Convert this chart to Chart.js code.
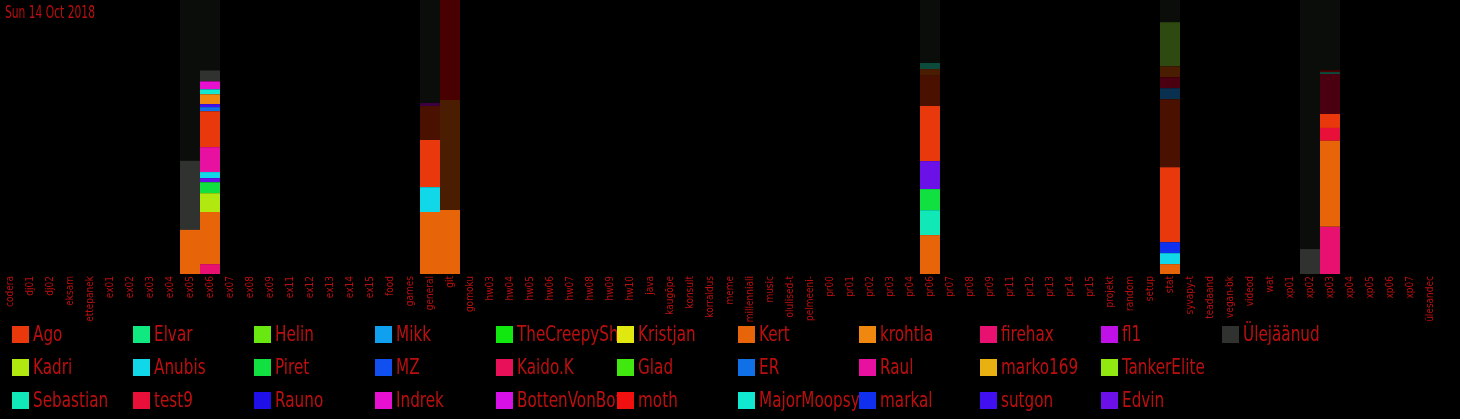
<!DOCTYPE html>
<html>
<head>
<meta charset="utf-8">
<script src="https://cdn.jsdelivr.net/npm/chart.js@4.4.0/dist/chart.umd.min.js"></script>
<style>
  html, body { margin: 0; padding: 0; background: #000; }
  #wrap { position: relative; width: 1460px; height: 419px; overflow: hidden; }
  #chart { position: absolute; left: 0; top: 0; }
  #date {
    position: absolute; left: 5px; top: 2px;
    color: #bb0f0f; font: 17px "Liberation Sans Narrow", "DejaVu Sans Condensed", sans-serif;
    transform: scaleX(0.7); transform-origin: left top;
  }
  #legend {
    position: absolute; left: 12px; top: 320px;
    display: grid; grid-template-rows: repeat(3, 33px); grid-auto-flow: column;
    grid-auto-columns: 121px;
  }
  .item { position: relative; width: 121px; height: 33px; overflow: hidden; white-space: nowrap; }
  .box { position: absolute; left: 0; top: 6px; width: 17px; height: 17px; }
  .lab {
    position: absolute; left: 21px; top: 1px;
    color: #bb0f0f; font: 22px/26px "Liberation Sans Narrow", "DejaVu Sans Condensed", sans-serif;
    transform: scaleX(0.77); transform-origin: left top;
  }
</style>
</head>
<body>
<div id="wrap">
  <canvas id="chart" width="1460" height="330"></canvas>
  <div id="date">Sun 14 Oct 2018</div>
  <div id="legend"></div>
</div>
<script>
// channels (x axis)
const channels = ['codera', 'dj01', 'dj02', 'eksam', 'ettepanek', 'ex01', 'ex02', 'ex03', 'ex04', 'ex05',
  'ex06', 'ex07', 'ex08', 'ex09', 'ex11', 'ex12', 'ex13', 'ex14', 'ex15', 'food', 'games', 'general',
  'git', 'gomoku', 'hw03', 'hw04', 'hw05', 'hw06', 'hw07', 'hw08', 'hw09', 'hw10', 'java', 'kaugõpe',
  'konsult', 'korraldus', 'meme', 'millenniali', 'music', 'olulised-t', 'pelmeeni-', 'pr00', 'pr01',
  'pr02', 'pr03', 'pr04', 'pr06', 'pr07', 'pr08', 'pr09', 'pr11', 'pr12', 'pr13', 'pr14', 'pr15',
  'projekt', 'random', 'setup', 'stat', 'syvapy-t', 'teadaand', 'vegan-bk', 'videod', 'wat', 'xp01',
  'xp02', 'xp03', 'xp04', 'xp05', 'xp06', 'xp07', 'ülesandec'];

// channels that had messages that day, values below are % of messages per user
const activeChannels = ['ex05', 'ex06', 'general', 'git', 'pr06', 'stat', 'xp02', 'xp03'];

// legend order (users)
const users = ['Ago', 'Kadri', 'Sebastian', 'Elvar', 'Anubis', 'test9', 'Helin', 'Piret', 'Rauno',
  'Mikk', 'MZ', 'Indrek', 'TheCreepySh', 'Kaido.K', 'BottenVonBot', 'Kristjan', 'Glad', 'moth',
  'Kert', 'ER', 'MajorMoopsy', 'krohtla', 'Raul', 'markal', 'firehax', 'marko169', 'sutgon',
  'fl1', 'TankerElite', 'Edvin', 'Ülejäänud'];
const userColors = ['#e8380c', '#b0e810', '#10e8b8', '#10e880', '#10d8e8', '#e81038', '#68e810',
  '#10e040', '#2010e8', '#10a0f0', '#1050f0', '#e810d0', '#10e810', '#e81058', '#d810e8',
  '#e0e810', '#40e810', '#f01010', '#e86408', '#1070e8', '#10e8d0', '#f08810', '#e810a0',
  '#1030f0', '#e81070', '#e8b010', '#4010f0', '#c010e8', '#90e810', '#6c10e8', '#303230'];

// per user share, in activeChannels order
//                ex05  ex06  general git   pr06  stat  xp02  xp03
const firehax   = [0,    3.6,  0,      0,    0,    0,    0,    17.2];
const Kert      = [16.1, 19.0, 22.6,   23.4, 14.2, 3.6,  0,    31.4];
const Kadri     = [0,    6.9,  0,      0,    0,    0,    0,    0];
const Sebastian = [0,    0,    0,      0,    9.1,  0,    0,    0];
const Piret     = [0,    4.0,  0,      0,    7.7,  0,    0,    0];
const Edvin     = [0,    1.5,  0,      0,    10.2, 0,    0,    0];
const Anubis    = [0,    2.2,  9.1,    0,    0,    4.0,  0,    0];
const Raul      = [0,    9.1,  0,      0,    0,    0,    0,    0];
const markal    = [0,    0,    0,      0,    0,    4.0,  0,    0];
const test9     = [0,    0,    0,      0,    0,    0,    0,    4.7];
const Ago       = [0,    13.1, 17.2,   0,    20.1, 27.4, 0,    5.1];
const ER        = [0,    1.5,  0,      0,    0,    0,    0,    0];
const sutgon    = [0,    1.1,  0,      0,    0,    0,    0,    0];
const krohtla   = [0,    3.6,  0,      0,    0,    0,    0,    0];
const MajorMoopsy = [0,  1.8,  0,      0,    0,    0,    0,    0];
const Indrek    = [0,    2.9,  0,      0,    0,    0,    0,    0];
const rest      = [25.2, 4.0,  0,      0,    0,    0,    9.1,  0];

// users without a legend entry (dark colours)
const otherColors = ['#4a1000', '#3c0040', '#0a3050', '#4a0010', '#4a1c00', '#0c4a3c', '#480000', '#2e4a10', '#0a0d0a'];
const other1 = [0,    0,    12.4,   0,    11.3, 24.8, 0,    0];
const other2 = [0,    0,    1.1,    0,    0,    0,    0,    0];
const other3 = [0,    0,    0,      0,    0,    4.0,  0,    0];
const other4 = [0,    0,    0,      0,    0,    4.0,  0,    14.6];
const other5 = [0,    0,    0,      40.1, 2.2,  4.0,  0,    0];
const other6 = [0,    0,    0,      0,    2.2,  0,    0,    0.7];
const other7 = [0,    0,    0,      36.5, 0,    0,    0,    0.7];
const other8 = [0,    0,    0,      0,    0,    16.1, 0,    0];
const other9 = [58.7, 25.7, 37.6,   0,    23.0, 8.1,  90.9, 25.6];

// stacking order, bottom to top
const stackOrder = [
  ['firehax', firehax], ['Kert', Kert], ['Kadri', Kadri], ['Sebastian', Sebastian], ['Piret', Piret],
  ['Edvin', Edvin], ['Anubis', Anubis], ['Raul', Raul], ['markal', markal], ['test9', test9],
  ['Ago', Ago], ['ER', ER], ['sutgon', sutgon], ['krohtla', krohtla], ['MajorMoopsy', MajorMoopsy],
  ['Indrek', Indrek], ['', other1], ['', other2], ['', other3], ['', other4], ['', other5],
  ['', other6], ['', other7], ['', other8], ['Ülejäänud', rest], ['', other9]
];

// empty channels get null so no zero-height bar is drawn
function fullRow(vals) {
  return channels.map(c => {
    const i = activeChannels.indexOf(c);
    return (i < 0 || vals[i] === 0) ? null : vals[i];
  });
}

let otherIdx = 0;
const datasets = stackOrder.map(([name, vals]) => {
  const color = name ? userColors[users.indexOf(name)] : otherColors[otherIdx++];
  return {
    label: name,
    data: fullRow(vals),
    backgroundColor: color,
    borderWidth: 0,
    inflateAmount: 0,
    barPercentage: 1,
    categoryPercentage: 1
  };
});

const ctx = document.getElementById('chart').getContext('2d');
new Chart(ctx, {
  type: 'bar',
  data: { labels: channels, datasets: datasets },
  options: {
    responsive: false,
    animation: false,
    devicePixelRatio: 1,
    layout: { padding: { left: 0, right: 20, top: 0, bottom: 0 } },
    plugins: {
      legend: { display: false },
      tooltip: { enabled: false }
    },
    scales: {
      x: {
        stacked: true,
        grid: { display: false, drawTicks: false },
        border: { display: false },
        ticks: {
          color: '#bb0f0f',
          font: { family: '"Liberation Sans Narrow", "DejaVu Sans Condensed", sans-serif', size: 10 },
          minRotation: 90,
          maxRotation: 90,
          autoSkip: false,
          padding: 2
        },
        afterFit: (scale) => { scale.height = 56; }
      },
      y: {
        stacked: true,
        display: false,
        min: 0,
        max: 100
      }
    }
  }
});

// legend, filled column by column like the original
const legend = document.getElementById('legend');
users.forEach((name, i) => {
  const item = document.createElement('div');
  item.className = 'item';
  item.innerHTML = '<span class="box" style="background:' + userColors[i] + '"></span><span class="lab">' + name + '</span>';
  legend.appendChild(item);
});
</script>
</body>
</html>
